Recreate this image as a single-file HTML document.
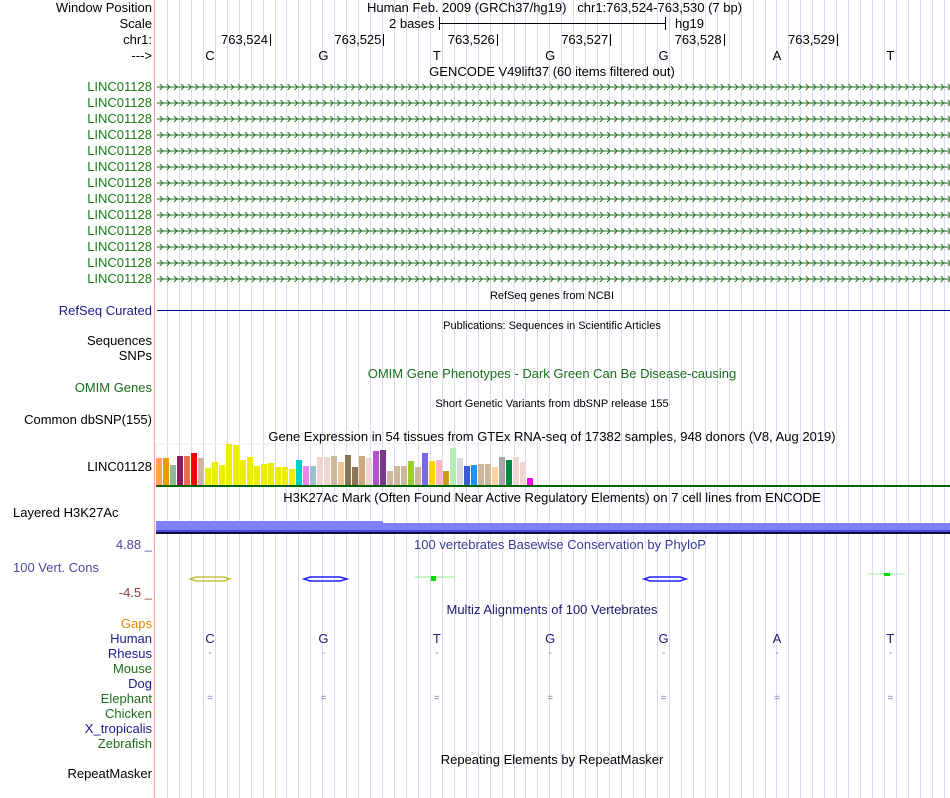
<!DOCTYPE html>
<html><head><meta charset="utf-8">
<style>
body{margin:0;width:950px;height:798px;background:#fff;position:relative;overflow:hidden;font-family:"Liberation Sans",sans-serif;font-size:13px;}
.t{position:absolute;white-space:nowrap;line-height:15px;}
.l{position:absolute;right:798px;white-space:nowrap;line-height:15px;text-align:right;}
.c{position:absolute;white-space:nowrap;line-height:15px;transform:translateX(-50%);}
.s{font-size:11px;}
</style></head>
<body>
<svg id="grid" width="950" height="798" style="position:absolute;left:0;top:0">
<defs>
<pattern id="chev" x="157" y="0" width="7.1" height="10" patternUnits="userSpaceOnUse">
<path d="M2 2 L5 5 L2 8" fill="none" stroke="#1a6d1a" stroke-width="0.9"/>
</pattern>
</defs>
<g id="vlines"></g>
<rect x="154" y="0" width="1" height="798" fill="#f4a0a0"/>
</svg>

<div class="l" style="top:0px">Window Position</div>
<div class="l" style="top:16px">Scale</div>
<div class="l" style="top:32px">chr1:</div>
<div class="l" style="top:48px">---&gt;</div>
<div class="t" style="left:367px;top:0px">Human Feb. 2009 (GRCh37/hg19)&nbsp;&nbsp;&nbsp;chr1:763,524-763,530 (7 bp)</div>
<div class="t" style="left:389px;top:16px">2 bases</div>
<div style="position:absolute;left:439px;top:23px;width:226px;height:1px;background:#000"></div>
<div style="position:absolute;left:439px;top:17px;width:1px;height:13px;background:#000"></div>
<div style="position:absolute;left:665px;top:17px;width:1px;height:13px;background:#000"></div>
<div class="t" style="left:675px;top:16px">hg19</div>
<div id="ruler"></div>
<div class="c" style="left:552px;top:64px">GENCODE V49lift37 (60 items filtered out)</div>
<div id="genes"></div>

<div class="c s" style="left:552px;top:289px">RefSeq genes from NCBI</div>
<div class="l" style="top:303px;color:#1a1a8c">RefSeq Curated</div>
<div style="position:absolute;left:157px;top:310px;width:793px;height:1px;background:#000080"></div>
<div class="c s" style="left:552px;top:319px">Publications: Sequences in Scientific Articles</div>
<div class="l" style="top:333px">Sequences</div>
<div class="l" style="top:348px">SNPs</div>
<div class="c" style="left:552px;top:366px;color:#1a6d1a">OMIM Gene Phenotypes - Dark Green Can Be Disease-causing</div>
<div class="l" style="top:380px;color:#1a6d1a">OMIM Genes</div>
<div class="c s" style="left:552px;top:397px">Short Genetic Variants from dbSNP release 155</div>
<div class="l" style="top:412px">Common dbSNP(155)</div>
<div class="c" style="left:552px;top:429px">Gene Expression in 54 tissues from GTEx RNA-seq of 17382 samples, 948 donors (V8, Aug 2019)</div>
<div class="l" style="top:459px">LINC01128</div>
<svg id="gtex" width="950" height="60" style="position:absolute;left:0;top:440px"></svg>
<div class="c" style="left:552px;top:490px">H3K27Ac Mark (Often Found Near Active Regulatory Elements) on 7 cell lines from ENCODE</div>
<div class="t" style="left:13px;top:505px">Layered H3K27Ac</div>
<div style="position:absolute;left:156px;top:521px;width:227px;height:10px;background:#7f7fff"></div>
<div style="position:absolute;left:383px;top:523px;width:567px;height:8px;background:#7f7fff"></div>
<div style="position:absolute;left:156px;top:530px;width:794px;height:2px;background:#4a4ae0"></div>
<div style="position:absolute;left:156px;top:532px;width:794px;height:2px;background:#10103a"></div>
<div class="l" style="top:537px;color:#4a4a9a">4.88 _</div>
<div class="c" style="left:560px;top:537px;color:#3a3a9a">100 vertebrates Basewise Conservation by PhyloP</div>
<div class="t" style="left:13px;top:560px;color:#4a4a9a">100 Vert. Cons</div>
<div class="l" style="top:585px;color:#8a3a3a">-4.5 _</div>
<svg width="950" height="30" style="position:absolute;left:0;top:565px">
<path d="M190 14 L196 12 L224 12 L230 14 L224 16 L196 16 Z" fill="none" stroke="#b8b820" stroke-width="1.3"/>
<path d="M304 14 L310 12 L340 12 L347 14 L340 16 L310 16 Z" fill="none" stroke="#2020ff" stroke-width="1.5"/>
<line x1="415" y1="12" x2="455" y2="12" stroke="#8ef08e"/><rect x="431" y="11" width="5" height="5" fill="#00e000"/>
<path d="M644 14 L650 12 L680 12 L686 14 L680 16 L650 16 Z" fill="none" stroke="#2020ff" stroke-width="1.5"/>
<line x1="868" y1="9" x2="905" y2="9" stroke="#a8f0a8"/><rect x="884" y="8" width="6" height="3" fill="#00e000"/>
</svg>
<div class="c" style="left:552px;top:602px;color:#1a1a70">Multiz Alignments of 100 Vertebrates</div>
<div class="l" style="top:616px;color:#e08a00">Gaps</div>
<div class="l" style="top:631px;color:#1a1a8c">Human</div>
<div class="l" style="top:646px;color:#1a1a8c">Rhesus</div>
<div class="l" style="top:661px;color:#1a6d1a">Mouse</div>
<div class="l" style="top:676px;color:#1a1a8c">Dog</div>
<div class="l" style="top:691px;color:#1a6d1a">Elephant</div>
<div class="l" style="top:706px;color:#1a6d1a">Chicken</div>
<div class="l" style="top:721px;color:#1a1a8c">X_tropicalis</div>
<div class="l" style="top:736px;color:#1a6d1a">Zebrafish</div>
<div id="align"></div>
<div class="c" style="left:552px;top:752px">Repeating Elements by RepeatMasker</div>
<div class="l" style="top:766px">RepeatMasker</div>

<script>
const bases=["C","G","T","G","G","A","T"];
const positions=["763,524","763,525","763,526","763,527","763,528","763,529"];
const gtexValues=[27,27,20,29,29,32,27,17,23,20,41,40,25,28,19,21,22,18,18,16,25,19,19,28,28,29,23,30,18,29,27,34,35,14,19,19,24,18,32,24,25,14,37,27,19,20,21,21,18,28,25,28,23,7];
const gtexColors=["#FFA54F","#EE9A00","#8FBC8F","#8B1C62","#EE6A50","#FF0000","#CDB79E","#EEEE00","#EEEE00","#EEEE00","#EEEE00","#EEEE00","#EEEE00","#EEEE00","#EEEE00","#EEEE00","#EEEE00","#EEEE00","#EEEE00","#EEEE00","#00CDCD","#EE82EE","#9AC0CD","#EED5D2","#EED5D2","#CDB79E","#EEC591","#8B7355","#8B7355","#CDAA7D","#EED5D2","#B452CD","#7A378B","#CDB79E","#CDB79E","#CDB79E","#9ACD32","#CDB79E","#7A67EE","#FFD700","#FFB6C1","#CD9B1D","#B4EEB4","#D9D9D9","#3A5FCD","#1E90FF","#CDB79E","#CDB79E","#FFD39B","#A6A6A6","#008B45","#EED5D2","#EED5D2","#FF00FF"];
const NS="http://www.w3.org/2000/svg";
const baseX=i=>210+i*113.4;
const vg=document.getElementById('vlines');
for(let x=167;x<950;x+=11.95){const r=document.createElementNS(NS,'rect');r.setAttribute('x',Math.round(x));r.setAttribute('y',0);r.setAttribute('width',1);r.setAttribute('height',798);r.setAttribute('fill','#dcdaf2');


vg.appendChild(r);}
let h='';
positions.forEach((p,i)=>{const x=270+i*113.4;h+=`<div class="t" style="left:${x-60}px;top:32px;width:58px;text-align:right">${p}</div><div style="position:absolute;left:${Math.round(x)}px;top:34px;width:1px;height:12px;background:#000"></div>`;});
bases.forEach((b,i)=>{h+=`<div class="c" style="left:${baseX(i)}px;top:48px">${b}</div>`;});
document.getElementById('ruler').innerHTML=h;
h='';
for(let i=0;i<13;i++){const y=79+i*16;h+=`<div class="l" style="top:${y}px;color:#1a7d1a">LINC01128</div><svg style="position:absolute;left:157px;top:${y+3}px" width="793" height="10"><rect x="0" y="0" width="793" height="10" fill="url(#chev)"/><line x1="0" y1="5" x2="793" y2="5" stroke="#1a6d1a"/></svg>`;}
document.getElementById('genes').innerHTML=h;
const g=document.getElementById('gtex');
const yS=v=>v*1.0;
const bg=document.createElementNS(NS,'rect');bg.setAttribute('x',156);bg.setAttribute('y',4);bg.setAttribute('width',383);bg.setAttribute('height',42);bg.setAttribute('fill','none');bg.setAttribute('stroke','#eee');g.appendChild(bg);
gtexValues.forEach((v,i)=>{const r=document.createElementNS(NS,'rect');const hh=yS(v);
r.setAttribute('x',156+i*7);r.setAttribute('y',45-hh);r.setAttribute('width',6);r.setAttribute('height',hh);r.setAttribute('fill',gtexColors[i]);


g.appendChild(r);});
const gl=document.createElementNS(NS,'rect');gl.setAttribute('x',156);gl.setAttribute('y',45);gl.setAttribute('width',794);gl.setAttribute('height',2);gl.setAttribute('fill','#006400');g.appendChild(gl);
h='';
bases.forEach((b,i)=>{const x=baseX(i);
h+=`<div class="c" style="left:${x}px;top:631px;color:#1a1a70">${b}</div>`;
h+=`<div class="c" style="left:${x}px;top:646px;color:#7a7ab0;font-size:10px">-</div>`;
h+=`<div class="c" style="left:${x}px;top:691px;color:#7a7ab0;font-size:10px">=</div>`;});
document.getElementById('align').innerHTML=h;
</script>
</body></html>
